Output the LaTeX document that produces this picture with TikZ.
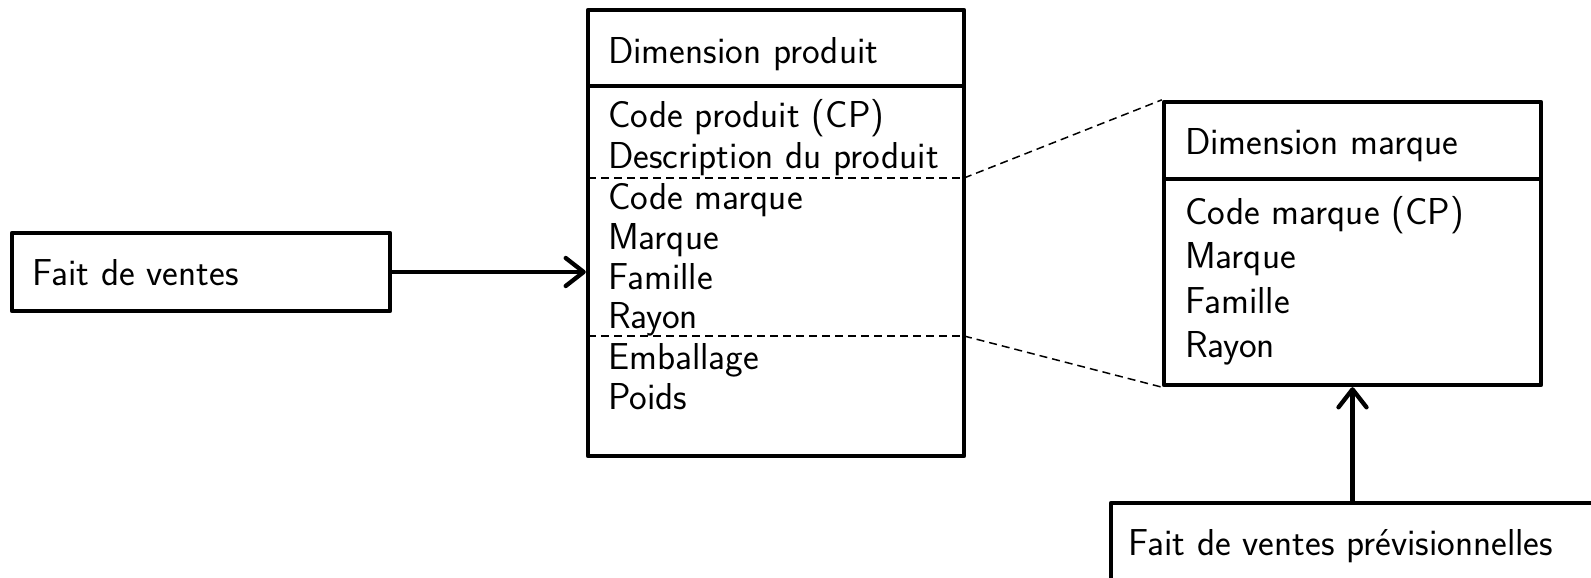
\documentclass[tikz,border=0pt]{standalone}
\usepackage{fontspec}
\usetikzlibrary{arrows.meta}
\begin{document}
\begin{tikzpicture}[x=1pt,y=-1pt,
  font=\sffamily\fontsize{37.5}{42}\selectfont,
  entity/.style={draw, line width=4.3pt, line join=round, inner sep=0pt},
  lbl/.style={anchor=base west, inner sep=0pt},
  rule/.style={line width=4.3pt},
  split/.style={line width=1.5pt, dash pattern=on 8pt off 5pt},
  link/.style={line width=4.3pt, -{Straight Barb[length=18pt,width=28pt,round]}}]
\useasboundingbox (0,0) rectangle (1591,578);
\clip (0,0) rectangle (1591,578);

% product dimension
\node[entity, minimum width=376pt, minimum height=446pt] (prod) at (776,233) {};
\coordinate (pt1) at (588,86);
\coordinate (pt2) at (964,86);
\draw[rule] (pt1) -- (pt2);
\coordinate (ps1) at (588,178);
\coordinate (ps2) at (964,178);
\coordinate (ps3) at (588,336);
\coordinate (ps4) at (964,336);
\draw[split] (ps1) -- (ps2);
\draw[split] (ps3) -- (ps4);
\node[lbl] (prodtitle) at (608,64) {Dimension produit};
\node[lbl] (p1) at (608,128) {Code produit (CP)};
\node[lbl] (p2) at (608,168) {Description du produit};
\node[lbl] (p3) at (608,209) {Code marque};
\node[lbl] (p4) at (608,249) {Marque};
\node[lbl] (p5) at (608,289) {Famille};
\node[lbl] (p6) at (608,328) {Rayon};
\node[lbl] (p7) at (608,369) {Emballage};
\node[lbl] (p8) at (608,409) {Poids};

% brand dimension
\node[entity, minimum width=377pt, minimum height=283pt] (marque) at (1352.5,243.5) {};
\coordinate (mt1) at (1164,179);
\coordinate (mt2) at (1541,179);
\draw[rule] (mt1) -- (mt2);
\node[lbl] (marquetitle) at (1185,154) {Dimension marque};
\node[lbl] (m1) at (1185,224) {Code marque (CP)};
\node[lbl] (m2) at (1185,268) {Marque};
\node[lbl] (m3) at (1185,313) {Famille};
\node[lbl] (m4) at (1185,357) {Rayon};

% links between the shared attributes
\draw[split] (ps2) -- (marque.north west);
\draw[split] (ps4) -- (marque.south west);

% fact tables
\node[entity, minimum width=378pt, minimum height=78pt] (ventes) at (201,272) {};
\node[lbl] (ventestxt) at (32,285) {Fait de ventes};
\node[entity, minimum width=489pt, minimum height=97pt] (prev) at (1355.5,551.5) {};
\node[lbl] (prevtxt) at (1128,555) {Fait de ventes prévisionnelles};

\draw[link] (ventes.east) -- (prod.west |- ventes.east);
\draw[link] (marque.south |- prev.north) -- (marque.south);
\end{tikzpicture}
\end{document}
